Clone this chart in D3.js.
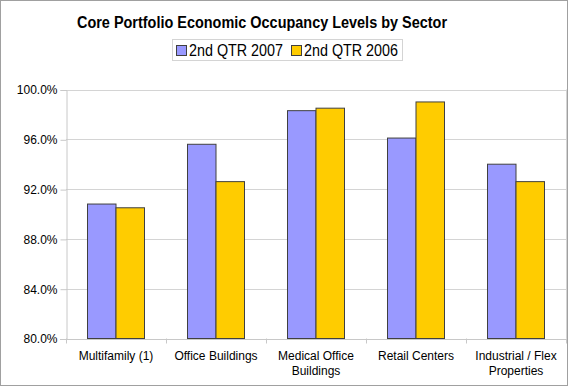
<!DOCTYPE html>
<html>
<head>
<meta charset="utf-8">
<script src="https://cdn.jsdelivr.net/npm/d3@7"></script>
<style>
	body{margin:0;background:#fff;}
	text{font-family:"Liberation Sans",Arial,sans-serif;}
</style>
</head>
<body>
<div id="container"></div>
<script>
var categories = [['Multifamily (1)'],['Office Buildings'],['Medical Office','Buildings'],['Retail Centers'],['Industrial / Flex','Properties']];
var series_names = ['2nd QTR 2007','2nd QTR 2006'];
var q2_2007 = [90.8,95.6,98.3,96.1,94.0];
var q2_2006 = [90.5,92.6,98.5,99.0,92.6];
var y_ticks = [80,84,88,92,96,100];

var colors = ['#9999ff','#ffcc00'];

var w = 569, h = 387;
var plot = {left:66, right:566, top:89.5, bottom:338.5};

var svg = d3.select('#container').append('svg')
	.attr('width',w)
	.attr('height',h);

//outer frame
svg.append('rect')
	.attr('x',0.5).attr('y',0.5)
	.attr('width',w-2).attr('height',h-2)
	.style('fill','#fff')
	.style('stroke','#a0a0a0');

svg.append('text')
	.attr('x',262).attr('y',28)
	.attr('text-anchor','middle')
	.attr('textLength',370)
	.attr('lengthAdjust','spacingAndGlyphs')
	.style('font-size','16px')
	.style('font-weight','bold')
	.text('Core Portfolio Economic Occupancy Levels by Sector');

var x0 = d3.scaleBand()
	.domain(d3.range(categories.length))
	.range([plot.left,plot.right])
	.paddingInner(0.43)
	.paddingOuter(0.215);
var x1 = d3.scaleBand()
	.domain([0,1])
	.range([0,x0.bandwidth()]);
var y = d3.scaleLinear()
	.domain([80,100])
	.range([plot.bottom,plot.top]);

//gridlines
svg.append('g').selectAll('line')
	.data(y_ticks)
	.enter().append('line')
	.attr('x1',plot.left).attr('x2',plot.right)
	.attr('y1',function(d){ return Math.round(y(d))+0.5; })
	.attr('y2',function(d){ return Math.round(y(d))+0.5; })
	.style('stroke','#d4d4d4');

//plot frame right side
svg.append('line')
	.attr('x1',plot.right+0.5).attr('x2',plot.right+0.5)
	.attr('y1',plot.top).attr('y2',plot.bottom)
	.style('stroke','#d4d4d4');

var yAxis = d3.axisLeft(y)
	.tickValues(y_ticks)
	.tickSize(6)
	.tickPadding(3)
	.tickFormat(function(d){ return d3.format('.1f')(d)+'%'; });
var gy = svg.append('g')
	.attr('transform','translate(' +(plot.left+0.5) +',0.5)')
	.call(yAxis);
gy.select('.domain').style('stroke','#c8c8c8');
gy.selectAll('.tick line').style('stroke','#c8c8c8');
gy.selectAll('text')
	.style('font-size','12px')
	.style('fill','#000')
	.style('font-family','"Liberation Sans",Arial,sans-serif');

//bars
var data = categories.map(function(c,i){ return [q2_2007[i],q2_2006[i]]; });
var groups = svg.selectAll('g.cat')
	.data(data)
	.enter().append('g')
	.classed('cat',true)
	.attr('transform',function(d,i){ return 'translate(' +x0(i) +',0)'; });
groups.selectAll('rect')
	.data(function(d){ return d; })
	.enter().append('rect')
	.attr('x',function(d,j){ return x1(j); })
	.attr('y',function(d){ return y(d); })
	.attr('width',x1.bandwidth())
	.attr('height',function(d){ return y(80)-y(d); })
	.style('fill',function(d,j){ return colors[j]; })
	.style('stroke','#404040')
	.style('stroke-width',1);

//x axis line and ticks
svg.append('line')
	.attr('x1',plot.left-6).attr('x2',plot.right)
	.attr('y1',Math.round(plot.bottom)+0.5).attr('y2',Math.round(plot.bottom)+0.5)
	.style('stroke','#c8c8c8');
var step = (plot.right-plot.left)/categories.length;
svg.append('g').selectAll('line')
	.data(d3.range(categories.length+1))
	.enter().append('line')
	.attr('x1',function(d){ return Math.round(plot.left+d*step)+0.5; })
	.attr('x2',function(d){ return Math.round(plot.left+d*step)+0.5; })
	.attr('y1',plot.bottom).attr('y2',plot.bottom+5)
	.style('stroke','#c8c8c8');

var labels = svg.append('g').selectAll('text')
	.data(categories)
	.enter().append('text')
	.attr('text-anchor','middle')
	.attr('x',function(d,i){ return plot.left+(i+0.5)*step; })
	.attr('y',360)
	.style('font-size','12px');
labels.selectAll('tspan')
	.data(function(d){ return d; })
	.enter().append('tspan')
	.attr('x',function(){ return d3.select(this.parentNode).attr('x'); })
	.attr('dy',function(d,i){ return i === 0 ? 0 : 15; })
	.text(function(d){ return d; });

//legend
var legend = svg.append('g');
legend.append('rect')
	.attr('x',172.5).attr('y',39.5)
	.attr('width',230).attr('height',21)
	.style('fill','#fff')
	.style('stroke','#d4d4d4');
var lx = [176,291];
series_names.forEach(function(s,i){
	legend.append('rect')
		.attr('x',lx[i]+0.5).attr('y',45.5)
		.attr('width',10).attr('height',10)
		.style('fill',colors[i])
		.style('stroke','#404040');
	legend.append('text')
		.attr('x',lx[i]+13).attr('y',56)
		.attr('textLength',94)
		.attr('lengthAdjust','spacingAndGlyphs')
		.style('font-size','16px')
		.text(s);
});
</script>
</body>
</html>
